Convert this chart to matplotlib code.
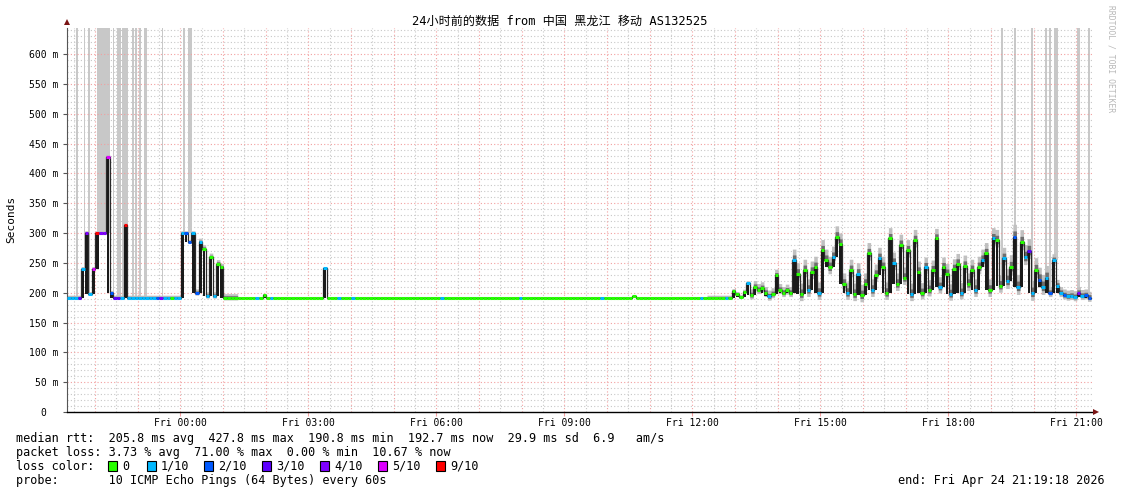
import numpy as np
import matplotlib
matplotlib.use("Agg")
import matplotlib.pyplot as plt
from matplotlib.patches import Rectangle

# ---------------- data ----------------
t_first = -2.653          # hours relative to Fri 00:00 of the first 5-minute sample
sample_h = 5.0 / 60.0

# median rtt (ms), one row per hour of 5-minute samples
median_ms = [
    192, 192, 192, 192, 240, 300, 198, 240, 300, 300, 300, 428,
    200, 192, 192, 192, 313, 192, 192, 192, 192, 192, 192, 192,
    192, 192, 192, 192, 192, 192, 192, 192, 300, 300, 285, 300,
    200, 285, 274, 195, 260, 195, 249, 243, 192, 192, 192, 192,
    192, 192, 192, 192, 192, 192, 192, 197, 192, 192, 192, 192,
    192, 192, 192, 192, 192, 192, 192, 192, 192, 192, 192, 192,
    241, 192, 192, 192, 192, 192, 192, 192, 192, 192, 192, 192,
    192, 192, 192, 192, 192, 192, 192, 192, 192, 192, 192, 192,
    192, 192, 192, 192, 192, 192, 192, 192, 192, 192, 192, 192,
    192, 192, 192, 192, 192, 192, 192, 192, 192, 192, 192, 192,
    192, 192, 192, 192, 192, 192, 192, 192, 192, 192, 192, 192,
    192, 192, 192, 192, 192, 192, 192, 192, 192, 192, 192, 192,
    192, 192, 192, 192, 192, 192, 192, 192, 192, 192, 192, 192,
    192, 192, 192, 194, 192, 192, 192, 192, 192, 192, 192, 192,
    192, 192, 192, 192, 192, 192, 192, 192, 192, 192, 192, 192,
    192, 192, 192, 192, 192, 192, 192, 203, 198, 193, 202, 216,
    196, 210, 205, 208, 200, 194, 198, 229, 205, 200, 204, 200,
    255, 232, 198, 238, 205, 235, 243, 200, 271, 255, 243, 260,
    294, 282, 215, 200, 238, 198, 232, 196, 215, 266, 205, 230,
    258, 243, 200, 291, 250, 215, 280, 225, 271, 198, 288, 235,
    200, 243, 205, 238, 291, 210, 243, 232, 198, 240, 249, 200,
    245, 215, 238, 205, 243, 255, 266, 205, 291, 288, 212, 258,
    220, 243, 294, 210, 285, 260, 270, 200, 238, 222, 210, 225,
    200, 255, 212, 200, 196, 194, 195, 193, 200, 195, 196, 192,
]

# lost pings out of 10 per sample
loss_of_10 = [
    1, 1, 1, 3, 1, 4, 1, 5, 9, 4, 4, 5,
    2, 3, 3, 1, 9, 1, 1, 1, 1, 1, 1, 1,
    1, 2, 4, 1, 1, 0, 1, 1, 1, 2, 2, 1,
    2, 1, 0, 1, 0, 1, 0, 0, 0, 0, 0, 0,
    0, 0, 0, 0, 0, 1, 0, 0, 0, 1, 0, 0,
    0, 0, 0, 0, 0, 0, 0, 0, 0, 0, 0, 0,
    1, 0, 0, 0, 1, 0, 0, 0, 1, 0, 0, 0,
    0, 0, 0, 0, 0, 0, 0, 0, 0, 0, 0, 0,
    0, 0, 0, 0, 0, 0, 0, 0, 0, 1, 0, 0,
    0, 0, 0, 0, 0, 0, 0, 0, 0, 0, 0, 0,
    0, 0, 0, 0, 0, 0, 0, 1, 0, 0, 0, 0,
    0, 0, 0, 0, 0, 0, 0, 0, 0, 0, 0, 0,
    0, 0, 0, 0, 0, 0, 1, 0, 0, 0, 0, 0,
    0, 0, 0, 0, 0, 0, 0, 0, 0, 0, 0, 0,
    0, 0, 0, 0, 0, 0, 0, 0, 0, 0, 1, 0,
    0, 0, 0, 0, 0, 1, 0, 0, 0, 0, 0, 1,
    0, 0, 0, 0, 0, 1, 0, 0, 0, 0, 0, 0,
    1, 0, 0, 0, 1, 0, 0, 1, 0, 0, 0, 1,
    0, 0, 0, 1, 0, 0, 1, 0, 0, 0, 1, 0,
    1, 0, 0, 0, 1, 0, 0, 0, 0, 1, 0, 0,
    0, 1, 0, 0, 0, 1, 0, 0, 1, 0, 0, 1,
    0, 0, 0, 1, 0, 1, 0, 0, 1, 0, 0, 1,
    1, 0, 2, 1, 0, 1, 3, 1, 0, 2, 1, 1,
    2, 1, 1, 1, 2, 1, 1, 1, 4, 1, 2, 2,
]

# spread of the ping "smoke" (ms), one value per hour
smoke_ms_hourly = [3, 3, 3, 5, 1, 1, 1, 1, 1, 1, 1, 1,
                   1, 1, 1, 3, 8, 14, 14, 14, 13, 14, 16, 8]

# periods with lost pings (full-height grey bars), hours rel. Fri 00:00
loss_bar_from = [-2.442, -2.261, -2.153, -1.957, -1.582, -1.474, -1.371, -1.129,
                 -1.052, -0.958, -0.841, -0.433, 0.073, 0.176,
                 19.236, 19.541, 19.939, 20.267, 20.368, 20.478, 21.010, 21.275]
loss_bar_to = [-2.402, -2.231, -2.114, -1.645, -1.551, -1.387, -1.230, -1.082,
               -1.005, -0.925, -0.785, -0.410, 0.113, 0.277,
               19.283, 19.588, 19.993, 20.314, 20.401, 20.565, 21.088, 21.322]

loss_levels = [0, 1, 2, 3, 4, 5, 9]
loss_colors = ['#26ff00', '#00b8ff', '#0059ff', '#5e00ff', '#7e00ff', '#dd00ff', '#ff0000']
loss_labels = ['0', '1/10', '2/10', '3/10', '4/10', '5/10', '9/10']

x_tick_hours = [0, 3, 6, 9, 12, 15, 18, 21]
x_tick_labels = ['Fri 00:00', 'Fri 03:00', 'Fri 06:00', 'Fri 09:00',
                 'Fri 12:00', 'Fri 15:00', 'Fri 18:00', 'Fri 21:00']
y_ticks = [0, 50, 100, 150, 200, 250, 300, 350, 400, 450, 500, 550, 600]
y_tick_labels = ['0  ', '50 m', '100 m', '150 m', '200 m', '250 m', '300 m',
                 '350 m', '400 m', '450 m', '500 m', '550 m', '600 m']

title = '24小时前的数据 from 中国 黑龙江 移动 AS132525'
stat_lines = [
    'median rtt:  205.8 ms avg  427.8 ms max  190.8 ms min  192.7 ms now  29.9 ms sd  6.9   am/s',
    'packet loss: 3.73 % avg  71.00 % max  0.00 % min  10.67 % now',
]
probe_line = 'probe:       10 ICMP Echo Pings (64 Bytes) every 60s'
end_line = 'end: Fri Apr 24 21:19:18 2026'

# ---------------- figure ----------------
W, H = 1121, 494
MONO = 'DejaVu Sans Mono'
plt.rcParams['font.family'] = [MONO, 'Noto Sans CJK SC']
fig = plt.figure(figsize=(W / 100, H / 100), dpi=100)

x_left_px, x_right_px, y_top_px, y_bot_px = 67, 1093, 28, 412
ax = fig.add_axes([x_left_px / W, 1 - y_bot_px / H,
                   (x_right_px - x_left_px) / W, (y_bot_px - y_top_px) / H])
px_per_h = 42.67
x0_h = t_first
x1_h = x0_h + (x_right_px - x_left_px) / px_per_h
y_max = 644
ax.set_xlim(x0_h, x1_h)
ax.set_ylim(0, y_max)

med = np.array(median_ms, dtype=float)
n = len(med)
t = t_first + np.arange(n) * sample_h
edges = np.append(t, t[-1] + sample_h)
med_ext = np.append(med, med[-1])
spread = np.repeat(np.array(smoke_ms_hourly, dtype=float), 12)[:n]
spread_ext = np.append(spread, spread[-1])

# loss bars (full height)
for a, b in zip(loss_bar_from, loss_bar_to):
    idx = int(np.clip((a - t_first) // sample_h, 0, n - 1))
    bottom = med[idx]
    ax.add_patch(Rectangle((a, bottom), b - a, y_max - bottom,
                           facecolor='#c8c8c8', edgecolor='none', zorder=0.2))

# grid
for h in np.arange(-2, 22, 1.0):
    ax.axvline(h, color='#f2a0a0', lw=0.8, ls=(0, (1, 2)), zorder=0.6)
for h in np.arange(-2.5, 22, 1.0):
    ax.axvline(h, color='#c8c8c8', lw=0.8, ls=(0, (1, 2)), zorder=0.5)
for v in range(10, 650, 10):
    if v % 50:
        ax.axhline(v, color='#c8c8c8', lw=0.8, ls=(0, (1, 2)), zorder=0.5)
for v in y_ticks[1:]:
    ax.axhline(v, color='#f2a0a0', lw=0.8, ls=(0, (1, 2)), zorder=0.6)

# smoke
ax.fill_between(edges, med_ext - 0.8 * spread_ext, med_ext + 1.3 * spread_ext,
                step='post', color='#c0c0c0', lw=0, zorder=1)
ax.fill_between(edges, med_ext - 0.4 * spread_ext, med_ext + 0.6 * spread_ext,
                step='post', color='#6e6e6e', lw=0, zorder=1.2)

# dense core of each move of the median (black strokes)
prev = np.concatenate([[med[0]], med[:-1]])
nxt = np.concatenate([med[1:], [med[-1]]])
floor = np.minimum(med, np.minimum(prev, nxt))
ax.bar(t + sample_h / 2, med - floor, bottom=floor, width=sample_h * 0.75,
       color='#1a1a1a', lw=0, zorder=2.2)
ax.step(edges, med_ext, where='post', color='#2a2a2a', lw=0.9, zorder=2)

# loss-coloured median segments
col_map = dict(zip(loss_levels, loss_colors))
seg_cols = [col_map[l] for l in loss_of_10]
ax.hlines(med, edges[:-1], edges[1:], colors=seg_cols, lw=2.2, zorder=3)

# axes styling
for s in ['top', 'right']:
    ax.spines[s].set_visible(False)
ax.spines['left'].set_color('#555555')
ax.spines['left'].set_linewidth(0.8)
ax.spines['bottom'].set_color('#000000')
ax.spines['bottom'].set_linewidth(1.0)
ax.set_facecolor('white')

ax.set_xticks(x_tick_hours)
ax.set_xticklabels(x_tick_labels, fontsize=7, family=MONO)
ax.set_yticks(y_ticks)
ax.set_yticklabels(y_tick_labels, fontsize=7, family=MONO)
ax.tick_params(axis='x', length=3, width=0.8, color='#f2a0a0', pad=1)
ax.tick_params(axis='y', length=3, width=0.8, color='#555555', pad=3)

# arrows at axis ends
fig.patches.append(plt.Polygon([[(x_left_px - 3) / W, 1 - 25 / H],
                                [(x_left_px + 3) / W, 1 - 25 / H],
                                [x_left_px / W, 1 - 19 / H]],
                               closed=True, transform=fig.transFigure,
                               facecolor='#7a1414', edgecolor='none'))
fig.patches.append(plt.Polygon([[(x_right_px) / W, 1 - (y_bot_px - 3) / H],
                                [(x_right_px) / W, 1 - (y_bot_px + 3) / H],
                                [(x_right_px + 6) / W, 1 - y_bot_px / H]],
                               closed=True, transform=fig.transFigure,
                               facecolor='#7a1414', edgecolor='none'))

# texts
def ftext(xp, yp, s, **kw):
    fig.text(xp / W, 1 - yp / H, s, **kw)

ftext(560, 21, title, ha='center', va='center', fontsize=8.7,
      family=[MONO, 'Noto Sans CJK SC'])
ftext(11, 219, 'Seconds', ha='center', va='center', rotation=90,
      fontsize=8, family=MONO)
ftext(1111, 5, 'RRDTOOL / TOBI OETIKER', ha='center', va='top', rotation=270,
      fontsize=5.8, family=MONO, color='#b8b8b8')

FS = 8.5
ftext(16, 438, stat_lines[0], ha='left', va='center', fontsize=FS, family=MONO)
ftext(16, 452, stat_lines[1], ha='left', va='center', fontsize=FS, family=MONO)
ftext(16, 466, 'loss color:', ha='left', va='center', fontsize=FS, family=MONO)
box_x = [108, 147, 204, 262, 320, 378, 436]
for bx, c, lab in zip(box_x, loss_colors, loss_labels):
    fig.patches.append(Rectangle((bx / W, 1 - 471 / H), 9 / W, 10 / H,
                                 transform=fig.transFigure, facecolor=c,
                                 edgecolor='black', lw=0.8))
    ftext(bx + 14, 466, lab, ha='left', va='center', fontsize=FS, family=MONO)
ftext(16, 480, probe_line, ha='left', va='center', fontsize=FS, family=MONO)
ftext(1105, 480, end_line, ha='right', va='center', fontsize=FS, family=MONO)

fig.savefig('out.png', dpi=100, facecolor='white')
